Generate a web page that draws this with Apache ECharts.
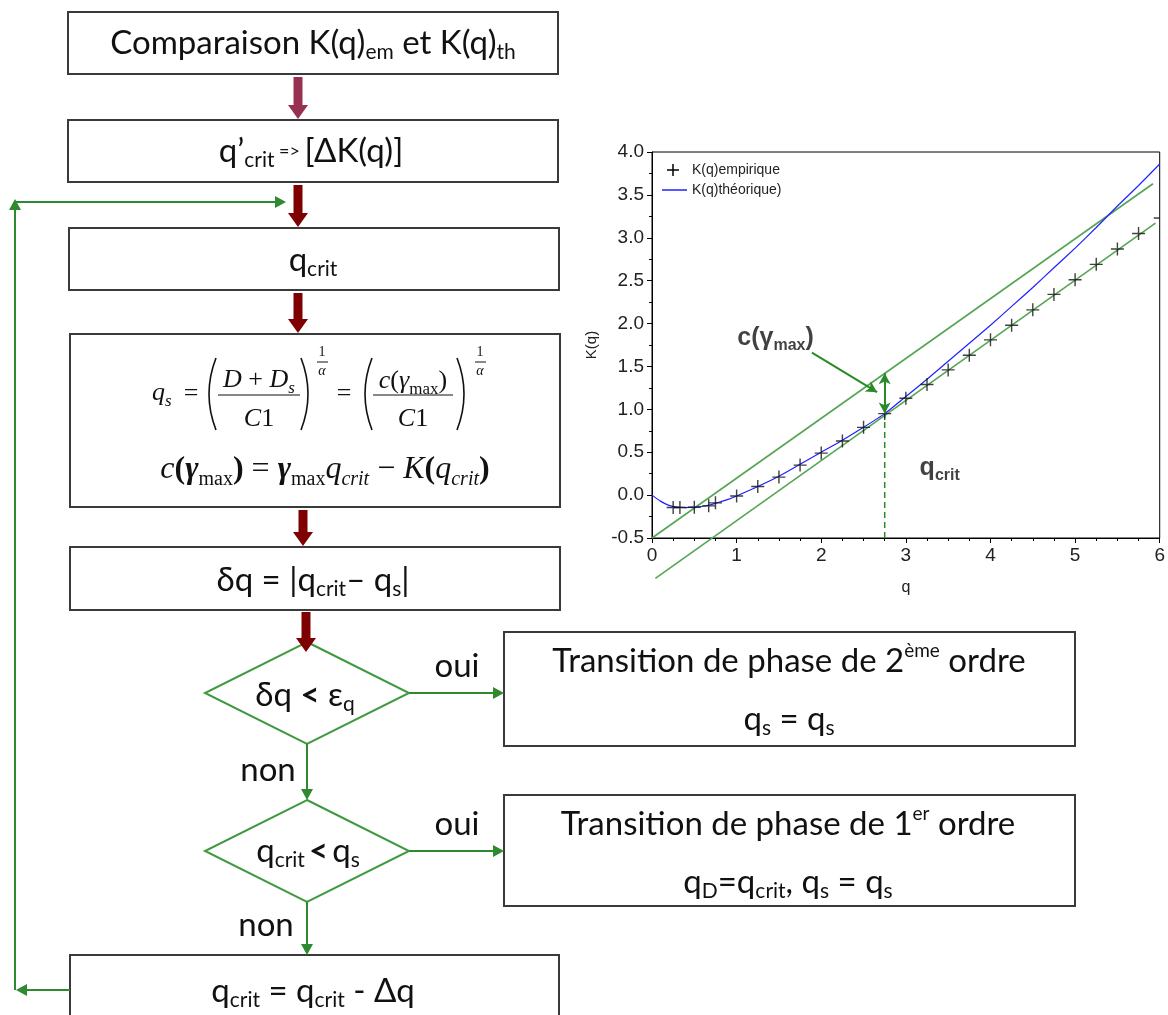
<!DOCTYPE html>
<html><head><meta charset="utf-8">
<script src="https://cdn.jsdelivr.net/npm/echarts@6/dist/echarts.min.js"></script>
<style>html,body{margin:0;padding:0;background:#fff}#c{width:1168px;height:1015px}</style>
</head><body><div id="c"></div>
<script>
// ---- chart data ----
const qEmp = [0.25,0.33,0.5,0.67,0.75,1.0,1.25,1.5,1.75,2.0,2.25,2.5,2.75,3.0,3.25,3.5,3.75,4.0,4.25,4.5,4.75,5.0,5.25,5.5,5.75,6.0];
const kEmp = [-0.145,-0.145,-0.142,-0.125,-0.09,-0.01,0.10,0.21,0.35,0.49,0.63,0.79,0.95,1.13,1.29,1.46,1.63,1.81,1.98,2.16,2.34,2.51,2.69,2.87,3.05,3.23];
const qTh = [0,0.1,0.2,0.3,0.4,0.5,0.6,0.7,0.8,0.9,1.0,1.25,1.5,1.75,2.0,2.25,2.5,2.75,3.0,3.25,3.5,3.75,4.0,4.25,4.5,4.75,5.0,5.25,5.5,5.75,6.0];
const kTh = [0,-0.07,-0.12,-0.14,-0.145,-0.14,-0.13,-0.11,-0.08,-0.05,-0.01,0.10,0.22,0.36,0.50,0.64,0.79,0.95,1.15,1.35,1.56,1.77,1.98,2.20,2.42,2.65,2.88,3.12,3.37,3.61,3.86];
const tanUpperQ = [0, 5.92], tanUpperK = [-0.5, 3.63];
const tanLowerQ = [0.04, 5.95], tanLowerK = [-0.97, 3.17];
const qCrit = 2.75, kAtCrit = 0.95, kUpperAtCrit = 1.42;
const xTicks = [0,1,2,3,4,5,6];
const yTicks = [-0.5,0,0.5,1,1.5,2,2.5,3,3.5,4];
const legendNames = ['K(q)empirique','K(q)théorique)'];

const zip = (a,b) => a.map((v,i)=>[v,b[i]]);

// ---- flowchart graphics ----
const G = [];
const BOX = '#3a3a3a', GREEN = '#2f8a2f', DIAG = '#3f9a3f', RED = '#7e0000', RED1 = '#96324f';
const SANS = 'Lato', SERIF = '"Liberation Serif"';
function rect(x,y,w,h){G.push({type:'rect',shape:{x:x,y:y,width:w,height:h},style:{fill:'#fff',stroke:BOX,lineWidth:2},z:1});}
function txt(x,y,text,font,rich,align,lh){
  G.push({type:'text',x:x,y:y,z:5,style:{text:text,font:font,fill:'#111',align:align||'center',verticalAlign:'middle',rich:rich||{},lineHeight:lh||40}});
}
function redArrow(x,y1,y2,color){
  G.push({type:'rect',shape:{x:x-4.5,y:y1,width:9,height:y2-y1-12},style:{fill:color},z:3});
  G.push({type:'polygon',shape:{points:[[x-10,y2-14],[x+10,y2-14],[x,y2]]},style:{fill:color},z:3});
}
function gLine(pts){G.push({type:'polyline',shape:{points:pts},style:{stroke:GREEN,lineWidth:2,fill:null},z:2});}
function gHead(x,y,dir){
  const L=11,W=6; let p;
  if(dir==='down') p=[[x-W,y-L],[x+W,y-L],[x,y]];
  if(dir==='up') p=[[x-W,y+L],[x+W,y+L],[x,y]];
  if(dir==='right') p=[[x-L,y-W],[x-L,y+W],[x,y]];
  if(dir==='left') p=[[x+L,y-W],[x+L,y+W],[x,y]];
  G.push({type:'polygon',shape:{points:p},style:{fill:GREEN},z:3});
}
function diamond(cx,cy,hw,hh){
  G.push({type:'polygon',shape:{points:[[cx,cy-hh],[cx+hw,cy],[cx,cy+hh],[cx-hw,cy]]},style:{fill:'#fff',stroke:DIAG,lineWidth:2},z:1});
}
function curve(x1,y1,cx,cy,x2,y2,w){G.push({type:'bezierCurve',shape:{x1:x1,y1:y1,cpx1:cx,cpy1:cy,x2:x2,y2:y2},style:{stroke:'#111',lineWidth:w||1.6,fill:null},z:5});}
function hline(x1,x2,y,w){G.push({type:'line',shape:{x1:x1,y1:y,x2:x2,y2:y},style:{stroke:'#111',lineWidth:w||1.2},z:5});}

const FM = '33px '+SANS, FS = '21px '+SANS;
const sansRich = {
  m:{font:FM}, s:{font:FS, verticalAlign:'bottom'}, sup:{font:'19px '+SANS, verticalAlign:'top'},
  b:{font:'bold 33px '+SANS}, sm:{font:'18px '+SANS}
};

// Boxes
rect(68,12,490,62);
txt(313,43,'{m|Comparaison K(q)}{s|em}{m| et K(q)}{s|th}',FM,sansRich);
redArrow(298,77,119,RED1);
rect(68,120,490,62);
txt(311,151,'{m|q’}{s|crit}{sm| => }{m|[ΔK(q)]}',FM,sansRich);
redArrow(298,185,227,RED);
rect(69,228,490,62);
txt(313,260,'{m|q}{s|crit}',FM,sansRich);
redArrow(298,293,333,RED);
rect(70,334,490,173);
redArrow(303,510,546,RED);
rect(70,547,490,63);
txt(313,580,'{m|δq = |q}{s|crit}{m|– q}{s|s}{m||}',FM,sansRich);
redArrow(306,612,652,RED);

// Formula box
const FI = 'italic 26px '+SERIF, FR = '26px '+SERIF;
const mathRich = {
  i:{font:FI}, r:{font:FR}, b:{font:'bold 26px '+SERIF}, g:{font:'italic bold 26px '+SERIF},
  sm:{font:'17px '+SERIF, verticalAlign:'bottom'}, ss:{font:'italic 17px '+SERIF, verticalAlign:'bottom'}
};
const FI2 = 'italic 32px '+SERIF;
const mathRich2 = {
  i:{font:FI2}, r:{font:'32px '+SERIF}, b:{font:'bold 32px '+SERIF}, g:{font:'italic bold 32px '+SERIF},
  sm:{font:'20px '+SERIF, verticalAlign:'bottom'}, sc:{font:'italic 20px '+SERIF, verticalAlign:'bottom'}
};
txt(152,393,'{i|q}{ss|s}',FI,mathRich,'left',34);
txt(191,394,'{r|=}',FR,mathRich,null,34);
curve(216,358,202,394,216,430);
txt(259,380,'{i|D}{r| + }{i|D}{ss|s}',FI,mathRich,null,34);
hline(218,300,395);
txt(259,419,'{i|C}{r|1}',FI,mathRich,null,34);
curve(301,358,315,394,301,430);
txt(322,352,'1','14px '+SERIF);
hline(317,328,362,1);
txt(322,371,'α','italic 14px '+SERIF);
txt(344,394,'{r|=}',FR,mathRich,null,34);
curve(372,358,358,394,372,430);
txt(413,381,'{i|c}{r|(}{i|γ}{sm|max}{r|)}',FI,mathRich,null,34);
hline(373,453,395);
txt(413,419,'{i|C}{r|1}',FI,mathRich,null,34);
curve(457,358,471,394,457,430);
txt(480,352,'1','14px '+SERIF);
hline(475,486,362,1);
txt(480,371,'α','italic 14px '+SERIF);
txt(325,470,'{i|c}{b|(}{g|γ}{sm|max}{b|)}{r| = }{g|γ}{sm|max}{i|q}{sc|crit}{r| − }{i|K}{b|(}{i|q}{sc|crit}{b|)}',FI2,mathRich2,null,40);

// Diamonds
diamond(307,693,102,51);
txt(305,695,'{m|δq }{b|<}{m| ε}{s|q}',FM,sansRich);
gLine([[409,693],[494,693]]); gHead(504,693,'right');
txt(457,666,'oui',FM);
gLine([[307,744],[307,790]]); gHead(307,800,'down');
txt(268,770,'non',FM);
diamond(307,851,102,51);
txt(308,851,'{m|q}{s|crit}{b|\u2009<\u2009}{m|q}{s|s}',FM,sansRich);
gLine([[409,851],[494,851]]); gHead(504,851,'right');
txt(457,824,'oui',FM);
gLine([[307,902],[307,945]]); gHead(307,955,'down');
txt(266,925,'non',FM);

// Result boxes
rect(504,632,571,114);
txt(789,661,'{m|Transition de phase de 2}{sup|ème}{m| ordre}',FM,sansRich);
txt(789,719,'{m|q}{s|s}{m| = q}{s|s}',FM,sansRich);
rect(504,795,571,111);
txt(788,824,'{m|Transition de phase de 1}{sup|er}{m| ordre}',FM,sansRich);
txt(788,882,'{m|q}{s|D}{m|=q}{s|crit}{m|, q}{s|s}{m| = q}{s|s}',FM,sansRich);

// Last box and loop
rect(70,955,489,90);
txt(313,991,'{m|q}{s|crit}{m| = q}{s|crit}{m| - Δq}',FM,sansRich);
gLine([[70,990],[27,990]]); gHead(16,990,'left');
gLine([[15,990],[15,209]]); gHead(15,199,'up');
gLine([[15,202],[275,202]]); gHead(286,202,'right');

// Chart legend
G.push({type:'polyline',shape:{points:[[667,170],[679,170]]},style:{stroke:'#000',lineWidth:1.5},z:5});
G.push({type:'polyline',shape:{points:[[673,164],[673,176]]},style:{stroke:'#000',lineWidth:1.5},z:5});
G.push({type:'text',x:692,y:170,z:5,style:{text:legendNames[0],font:'14px "Liberation Sans"',fill:'#222',align:'left',verticalAlign:'middle'}});
G.push({type:'line',shape:{x1:662,y1:190,x2:687,y2:190},style:{stroke:'#2222ff',lineWidth:1.5},z:5});
G.push({type:'text',x:692,y:190,z:5,style:{text:legendNames[1],font:'14px "Liberation Sans"',fill:'#222',align:'left',verticalAlign:'middle'}});

const CROSS = 'path://M0,5L10,5M5,0L5,10';
const TGREEN = '#55a555';
const empData = zip(qEmp,kEmp).map(p => p[0] >= 6
  ? {value:p, symbol:'rect', symbolSize:[6,1.5], symbolOffset:[-3,0], itemStyle:{color:'#111',borderWidth:0}}
  : p);
const option = {
  animation:false,
  backgroundColor:'#fff',
  grid:{left:652,top:152,width:508,height:386,show:true,borderColor:'#000',borderWidth:1,backgroundColor:'transparent'},
  xAxis:{type:'value',min:0,max:6,interval:1,
    axisLine:{show:true,onZero:false,lineStyle:{color:'#000',width:1}},
    axisTick:{show:true,length:5,lineStyle:{color:'#000'}},
    minorTick:{show:true,splitNumber:4,length:3,lineStyle:{color:'#000'}},
    splitLine:{show:false},
    axisLabel:{color:'#222',fontSize:19,fontFamily:'Liberation Sans',margin:8,
      formatter:v=>xTicks.includes(v)?String(v):''},
    name:'q',nameLocation:'middle',nameGap:42,nameMoveOverlap:false,
    nameTextStyle:{fontSize:16,color:'#222',fontFamily:'Liberation Sans'}},
  yAxis:{type:'value',min:-0.5,max:4,interval:0.5,
    axisLine:{show:true,onZero:false,lineStyle:{color:'#000',width:1}},
    axisTick:{show:true,length:5,lineStyle:{color:'#000'}},
    minorTick:{show:true,splitNumber:2,length:3,lineStyle:{color:'#000'}},
    splitLine:{show:false},
    axisLabel:{color:'#222',fontSize:19,fontFamily:'Liberation Sans',margin:8,
      formatter:v=>yTicks.some(t=>Math.abs(t-v)<1e-9)?v.toFixed(1):''},
    name:'K(q)',nameLocation:'middle',nameGap:53,nameMoveOverlap:false,
    nameTextStyle:{fontSize:15,color:'#222',fontFamily:'Liberation Sans'}},
  series:[
    {type:'line',data:zip(tanUpperQ,tanUpperK),symbol:'none',lineStyle:{color:TGREEN,width:1.6},clip:false,z:2},
    {type:'line',data:zip(tanLowerQ,tanLowerK),symbol:'none',lineStyle:{color:TGREEN,width:1.6},clip:false,z:2},
    {type:'line',data:[[qCrit,-0.5],[qCrit,kAtCrit]],symbol:'none',lineStyle:{color:'#2a8a2a',width:1.5,type:[6,4]},z:2,
      markLine:{silent:true,symbol:['arrow','arrow'],symbolSize:[9,11],label:{show:false},
        lineStyle:{color:'#2a8a2a',width:2,type:'solid'},
        data:[
          [{coord:[qCrit,kAtCrit]},{coord:[qCrit,kUpperAtCrit]}],
          [{coord:[1.89,1.66],symbol:'none'},{coord:[2.66,1.20]}]
        ]}},
    {type:'line',data:zip(qTh,kTh),symbol:'none',smooth:0.2,lineStyle:{color:'#2020ff',width:1.2},z:3},
    {type:'scatter',data:empData,symbol:CROSS,symbolSize:13,clip:false,
      itemStyle:{color:'#000',borderColor:'#111',borderWidth:1.4},z:4},
    {type:'scatter',data:[[1.46,1.83]],symbolSize:0,z:5,
      label:{show:true,position:'inside',formatter:'{a|c(}{g|γ}{s|max}{a|)}',
        rich:{a:{fontSize:25,fontWeight:'bold',fontFamily:'Liberation Sans',color:'#111',lineHeight:30},
              g:{fontSize:25,fontWeight:'bold',fontFamily:'Liberation Sans',color:'#111',lineHeight:30},
              s:{fontSize:16,fontWeight:'bold',fontFamily:'Liberation Sans',color:'#111',verticalAlign:'bottom'}}}},
    {type:'scatter',data:[[3.4,0.31]],symbolSize:0,z:5,
      label:{show:true,position:'inside',formatter:'{a|q}{s|crit}',
        rich:{a:{fontSize:25,fontWeight:'bold',fontFamily:'Liberation Sans',color:'#111',lineHeight:30},
              s:{fontSize:16,fontWeight:'bold',fontFamily:'Liberation Sans',color:'#111',verticalAlign:'bottom'}}}}
  ],
  graphic:G
};
const chart = echarts.init(document.getElementById('c'),null,{renderer:'canvas'});
chart.setOption(option);
</script>
</body></html>
